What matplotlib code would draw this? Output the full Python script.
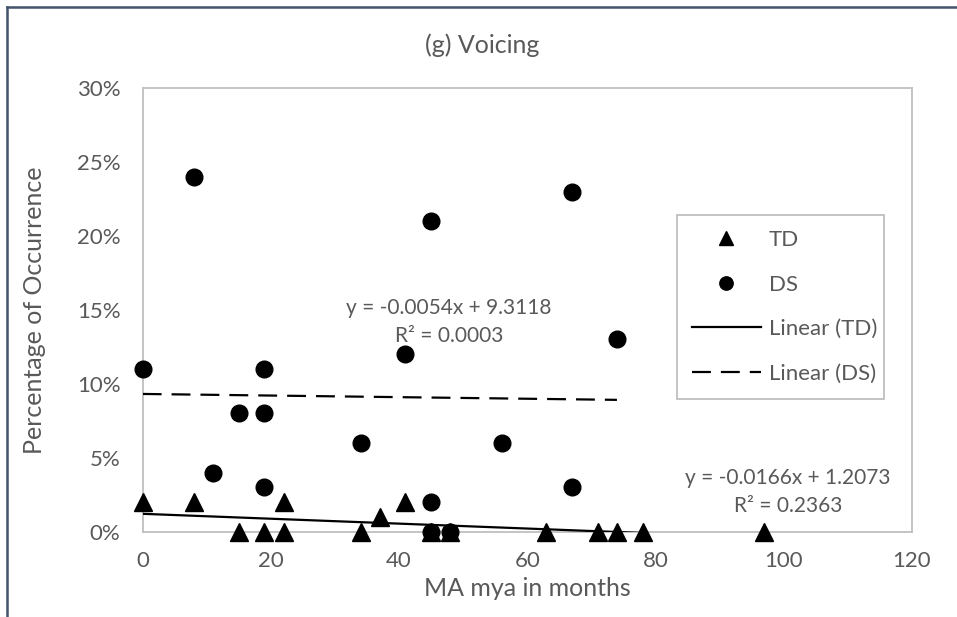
import numpy as np
import matplotlib
matplotlib.use("Agg")
import matplotlib.pyplot as plt
from matplotlib.ticker import FuncFormatter

# --- data ---
td_x = [0, 8, 15, 19, 22, 22, 34, 37, 41, 45, 48, 63, 71, 74, 78, 97]
td_y = [2, 2, 0, 0, 0, 2, 0, 1, 2, 0, 0, 0, 0, 0, 0, 0]
ds_x = [0, 8, 11, 15, 19, 19, 19, 34, 41, 45, 45, 45, 48, 56, 67, 67, 74]
ds_y = [11, 24, 4, 8, 11, 8, 3, 6, 12, 21, 2, 0, 0, 6, 23, 3, 13]

# excel trendline coefficients (as printed on the chart)
td_fit = (-0.0166, 1.2073)
ds_fit = (-0.0054, 9.3118)
td_eq = "y = -0.0166x + 1.2073\nR² = 0.2363"
ds_eq = "y = -0.0054x + 9.3118\nR² = 0.0003"

TXT = "#595959"
GRID = "#BFBFBF"
FONT = "Lato"

plt.rcParams['font.family'] = [FONT, 'DejaVu Sans']

fig = plt.figure(figsize=(9.57, 6.17), dpi=100)
ax = fig.add_axes([0.1491, 0.1383, 0.8036, 0.7191])

# outer chart frame (only top/left visible in the crop)
fig.add_artist(plt.Line2D([0.0075, 0.0075], [0, 0.989], transform=fig.transFigure, color="#44546A", lw=1.8))
fig.add_artist(plt.Line2D([0.0075, 1.0], [0.989, 0.989], transform=fig.transFigure, color="#44546A", lw=1.8))

h_td, = ax.plot(td_x, td_y, linestyle="none", marker="^", ms=13, color="black", label="TD",
                zorder=4, clip_on=False)
h_ds, = ax.plot(ds_x, ds_y, linestyle="none", marker="o", ms=12, color="black", label="DS",
                zorder=4, clip_on=False)

xt = np.array([min(td_x), max(td_x)])
h_ltd, = ax.plot(xt, td_fit[0] * xt + td_fit[1], color="black", lw=1.6, label="Linear (TD)", zorder=3)
xd = np.array([min(ds_x), max(ds_x)])
h_lds, = ax.plot(xd, ds_fit[0] * xd + ds_fit[1], color="black", lw=1.6, dashes=(8.5, 4.5),
                 label="Linear (DS)", zorder=3)

ax.set_xlim(0, 120)
ax.set_ylim(0, 30)
ax.set_xticks(range(0, 121, 20))
ax.set_yticks(range(0, 31, 5))
ax.yaxis.set_major_formatter(FuncFormatter(lambda v, p: f"{v:.0f}%"))
ax.tick_params(length=0, labelsize=16, labelcolor=TXT)
ax.tick_params(axis="x", pad=14)
ax.tick_params(axis="y", pad=16)
for sp in ax.spines.values():
    sp.set_color(GRID)
    sp.set_linewidth(1.3)

ax.set_xlabel("MA mya in months", fontsize=18, color=TXT, labelpad=4)
ax.set_ylabel("Percentage of Occurrence", fontsize=18, color=TXT)
ax.yaxis.set_label_coords(-0.1258, 0.5)
fig.text(482 / 957, 1 - 45 / 617, "(g) Voicing", ha="center", va="center", fontsize=18, color=TXT)

ax.text(47.8, 14.18, ds_eq, ha="center", va="center", fontsize=15, color=TXT, linespacing=1.5)
ax.text(100.7, 2.65, td_eq, ha="center", va="center", fontsize=15, color=TXT, linespacing=1.5)

leg = ax.legend(handles=[h_td, h_ds, h_ltd, h_lds], loc="upper left",
                bbox_to_anchor=(0.6944, 0.308, 0.2696, 0.4058), mode="expand",
                fontsize=16, labelcolor=TXT, fancybox=False, edgecolor=GRID,
                framealpha=1, labelspacing=1.1, handlelength=3.1, handletextpad=0.36,
                borderpad=0.68, borderaxespad=0, markerscale=0.8)
leg.get_frame().set_linewidth(1.3)

fig.savefig("out.png", dpi=100, facecolor="white")
